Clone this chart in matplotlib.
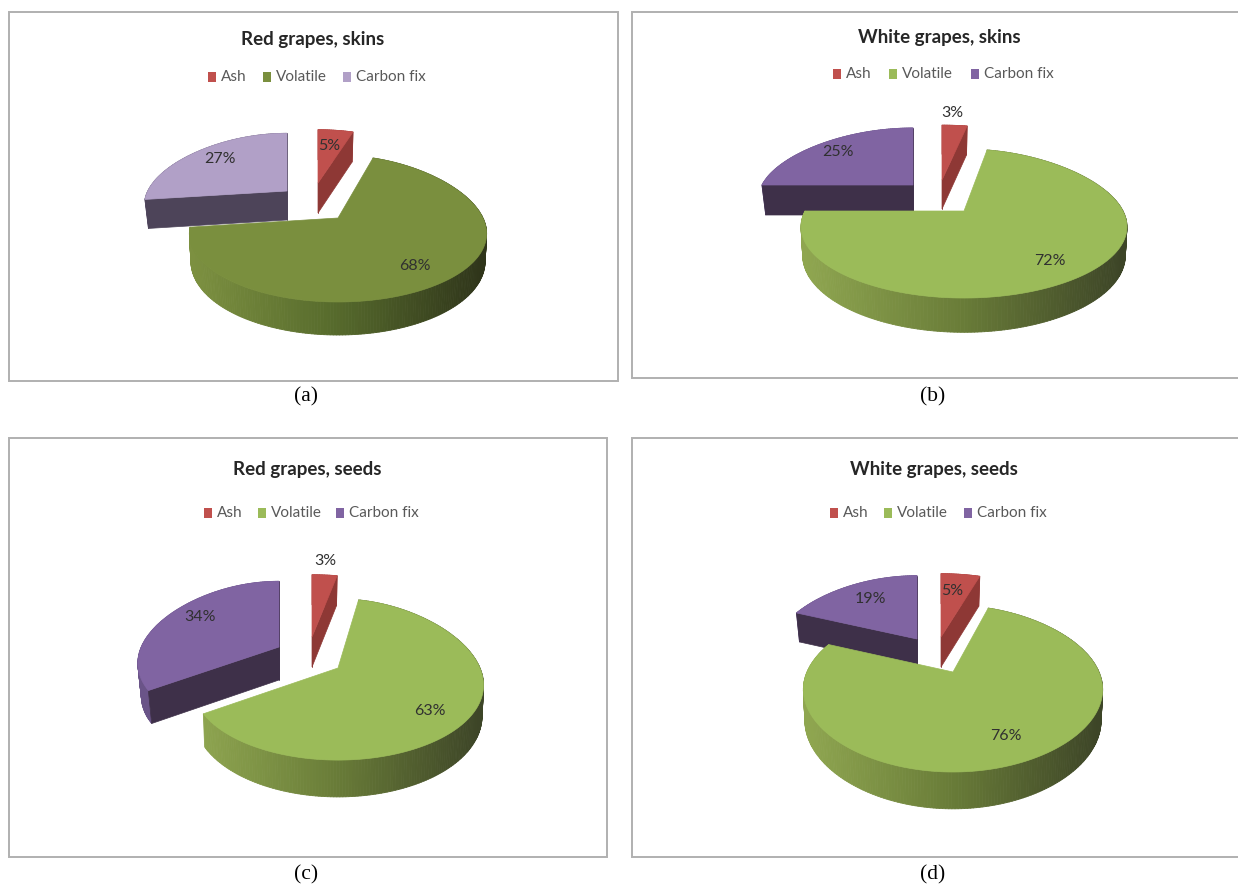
import numpy as np
import matplotlib
matplotlib.use('Agg')
import matplotlib.pyplot as plt
from matplotlib.collections import PolyCollection
from matplotlib.colors import LinearSegmentedColormap
from matplotlib.patches import Polygon, Rectangle

plt.rcParams['font.family'] = ['Lato', 'DejaVu Sans']

# composition of each sample, percent
slice_names = ['Ash', 'Volatile', 'Carbon fix']
red_skins = [5, 68, 27]
white_skins = [3, 72, 25]
red_seeds = [3, 63, 34]
white_seeds = [5, 76, 19]

titles = ['Red grapes, skins', 'White grapes, skins', 'Red grapes, seeds', 'White grapes, seeds']
captions = ['(a)', '(b)', '(c)', '(d)']

RED = dict(top='#C0504D', side='#8E3835', wall='#A5403D')
GREEN_DARK = dict(top='#7A8F3E', wall=['#7C9040', '#566A2C', '#2F351A'])
GREEN = dict(top='#9BBB59', wall=['#8FA650', '#697C38', '#3D4527'])
LILAC = dict(top='#B1A0C7', side='#4D4459', wall='#6A5E7C')
PURPLE = dict(top='#8064A2', side='#3E3049', wall='#6A5488')

# x, y in pixels for everything below; ash and carbon are (shift, scale, depth)
panels = [
    dict(values=red_skins, frame=(9, 12, 618, 381), title=(313, 39), caption=(306, 397),
         legend_y=77, markers=(212, 267, 347), centre=(338, 218), a=145, b=71.8, p=0.145, depth=26,
         ash=((-20, -35), (1.0, 0.85), 30), carbon=((-51, -27), (0.96, 0.92), 29),
         green=GREEN_DARK, purple=LILAC, labels=((329, 146), (415, 266), (220, 159))),
    dict(values=white_skins, frame=(632, 12, 1242, 378), title=(939, 38), caption=(933, 397),
         legend_y=74, markers=(837, 893, 975), centre=(964, 211), a=159, b=72.4, p=0.168, depth=27,
         ash=((-22, -31), (1.09, 0.885), 29), carbon=((-51, -26), (0.95, 0.92), 30),
         green=GREEN, purple=PURPLE, labels=((952, 113), (1050, 261), (838, 152))),
    dict(values=red_seeds, frame=(9, 438, 607, 857), title=(307, 469), caption=(306, 875),
         legend_y=513, markers=(208, 262, 340), centre=(338, 668), a=142, b=79, p=0.142, depth=29,
         ash=((-26, -31), (1.22, 0.9), 30), carbon=((-59, -21), (0.97, 0.95), 33),
         green=GREEN, purple=PURPLE, labels=((325, 561), (430, 711), (200, 617))),
    dict(values=white_seeds, frame=(632, 438, 1242, 857), title=(934, 469), caption=(933, 875),
         legend_y=513, markers=(834, 888, 968), centre=(953, 672), a=146, b=80, p=0.2, depth=29,
         ash=((-12, -35), (1.1, 0.95), 30), carbon=((-36, -33), (0.97, 0.95), 29),
         green=GREEN, purple=PURPLE, labels=((952, 591), (1006, 736), (870, 599))),
]


def rim_points(t, g, scale=(1.0, 1.0)):
    # t clockwise from twelve o'clock, tilted circle with the far side foreshortened
    X = np.sin(t)
    Y = -np.cos(t)
    x = g['a'] * scale[0] * X * (1 + 0.23 * Y)
    y = g['b'] * scale[1] * Y / (1 - g['p'] * Y)
    return x, y, Y


def draw_slice(ax, g, t0, t1, colors, offset=(0, 0), scale=(1.0, 1.0), depth=None, z=1):
    cx = g['centre'][0] + offset[0]
    cy = g['centre'][1] + offset[1]
    t = np.linspace(t0, t1, max(int(np.degrees(t1 - t0)), 2) + 1)
    x, y, Y = rim_points(t, g, scale)
    x = x + cx
    y = y + cy
    # lower edge pulls in a little, the main slice also gets thicker towards the front
    if depth is None:
        d = g['depth'] * (1 + 0.27 * Y)
        apex_d = g['depth']
        xb = x - (x - cx) * 0.01
    else:
        d = np.full_like(x, depth)
        apex_d = depth
        xb = x - (x - cx) * 0.025

    # outer wall, shaded left to right
    if isinstance(colors['wall'], list):
        cmap = LinearSegmentedColormap.from_list('wall', colors['wall'])
        shade = cmap((x[:-1] - (cx - g['a'])) / (2 * g['a']))
    else:
        shade = colors['wall']
    quads = [[(x[i], y[i]), (x[i + 1], y[i + 1]), (xb[i + 1], y[i + 1] + d[i + 1]), (xb[i], y[i] + d[i])]
             for i in range(len(x) - 1)]
    ax.add_collection(PolyCollection(quads, facecolors=shade, edgecolors=shade, linewidths=0.6, zorder=z))

    # cut faces that look towards the viewer
    if 'side' in colors:
        for i in (0, -1):
            face = [(cx, cy), (x[i], y[i]), (xb[i], y[i] + d[i]), (cx, cy + apex_d)]
            ax.add_patch(Polygon(face, closed=True, fc=colors['side'], ec=colors['side'], lw=0.5, zorder=z + 0.1))

    top = np.column_stack([np.r_[cx, x], np.r_[cy, y]])
    ax.add_patch(Polygon(top, closed=True, fc=colors['top'], ec=colors['top'], lw=0.5, zorder=z + 0.2))


def draw_panel(ax, g, title, caption):
    x0, y0, x1, y1 = g['frame']
    ax.add_patch(Rectangle((x0, y0), x1 - x0, y1 - y0, fc='white', ec='#B0B0B0', lw=1.4, zorder=0))
    ax.text(g['title'][0], g['title'][1], title, fontsize=13.5, fontweight='bold', color='#262626',
            ha='center', va='center', zorder=5)
    ax.text(g['caption'][0], g['caption'][1], caption, fontsize=15.5, family='Liberation Serif',
            color='black', ha='center', va='center')

    legend_colors = [RED['top'], g['green']['top'], g['purple']['top']]
    for name, mx, c in zip(slice_names, g['markers'], legend_colors):
        ax.add_patch(Rectangle((mx - 4, g['legend_y'] - 5), 8, 10, fc=c, ec='none', zorder=5))
        ax.text(mx + 9, g['legend_y'], name, fontsize=11, color='#595959', ha='left', va='center', zorder=5)

    ash, volatile, carbon = g['values']
    a0 = 0.0
    a1 = a0 + np.radians(ash * 3.6)
    a2 = a1 + np.radians(volatile * 3.6)
    a3 = a2 + np.radians(carbon * 3.6)

    draw_slice(ax, g, a2, a3, g['purple'], g['carbon'][0], g['carbon'][1], g['carbon'][2], z=1)
    draw_slice(ax, g, a0, a1, RED, g['ash'][0], g['ash'][1], g['ash'][2], z=2)
    draw_slice(ax, g, a1, a2, g['green'], z=3)

    for v, pos in zip(g['values'], g['labels']):
        ax.text(pos[0], pos[1], f'{v}%', fontsize=11.5, color='#303030', ha='center', va='center', zorder=6)


fig = plt.figure(figsize=(12.38, 8.85), dpi=100)
ax = fig.add_axes([0, 0, 1, 1])
ax.set_xlim(0, 1238)
ax.set_ylim(885, 0)
ax.axis('off')

for g, title, caption in zip(panels, titles, captions):
    draw_panel(ax, g, title, caption)

fig.savefig('out.png', dpi=100, facecolor='white')
